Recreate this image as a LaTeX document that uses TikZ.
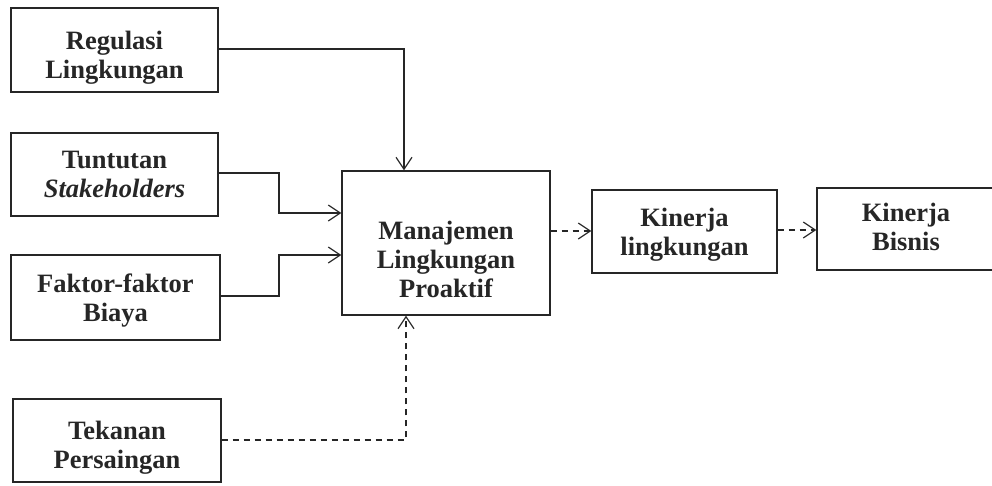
\documentclass[tikz,border=0pt]{standalone}
\usepackage{fontspec}
\setmainfont{Liberation Serif}
\usetikzlibrary{arrows.meta}
\definecolor{ink}{HTML}{262626}
\begin{document}
\begin{tikzpicture}[x=1pt,y=-1pt,
  box/.style={draw=ink, line width=1.3pt, inner sep=0pt},
  txt/.style={inner sep=0pt, align=center, text=ink,
    font=\fontsize{26.5}{29}\selectfont\bfseries},
  conn/.style={draw=ink, line width=1.2pt, -{Straight Barb[length=12pt,width=16pt,line width=1.2pt]}},
  dconn/.style={conn, dash pattern=on 6pt off 5pt}]
\useasboundingbox (0,0) rectangle (992,485);
\node[box, minimum width=207pt, minimum height=84pt] (reg) at (114.5,50) {};
\node[box, minimum width=207pt, minimum height=83pt] (tun) at (114.5,174.5) {};
\node[box, minimum width=209pt, minimum height=85pt] (fak) at (115.5,297.5) {};
\node[box, minimum width=208pt, minimum height=83pt] (tek) at (117,440.5) {};
\node[box, minimum width=208pt, minimum height=144pt] (man) at (446,243) {};
\node[box, minimum width=185pt, minimum height=83pt] (kl) at (684.5,231.5) {};
\node[box, minimum width=178pt, minimum height=82pt] (kb) at (906,229) {};
\node[txt] (regt) at (114.5,58) {Regulasi\\Lingkungan};
\node[txt] (tunt) at (114.5,174.5) {Tuntutan\\\textit{Stakeholders}};
\node[txt] (fakt) at (115.5,301) {Faktor-faktor\\Biaya};
\node[txt] (tekt) at (117,447.5) {Tekanan\\Persaingan};
\node[txt] (mant) at (446,259) {Manajemen\\Lingkungan\\Proaktif};
\node[txt] (klt) at (684.5,235) {Kinerja\\lingkungan};
\node[txt] (kbt) at (906,227) {Kinerja\\Bisnis};
\coordinate (r1) at (404,49);
\coordinate (t1) at (279,173);
\coordinate (t2) at (279,213);
\coordinate (f1) at (279,296);
\coordinate (f2) at (279,255);
\coordinate (k1) at (406,440);
\draw[conn] (reg.east |- r1) -- (r1) -- (r1 |- man.north);
\draw[conn] (tun.east |- t1) -- (t1) -- (t2) -- (t2 -| man.west);
\draw[conn] (fak.east |- f1) -- (f1) -- (f2) -- (f2 -| man.west);
\draw[dconn] (tek.east |- k1) -- (k1) -- (k1 |- man.south);
\coordinate (m1) at (0,231);
\draw[dconn] (man.east |- m1) -- (kl.west |- m1);
\coordinate (m2) at (0,230);
\draw[dconn] (kl.east |- m2) -- (kb.west |- m2);
\end{tikzpicture}
\end{document}
